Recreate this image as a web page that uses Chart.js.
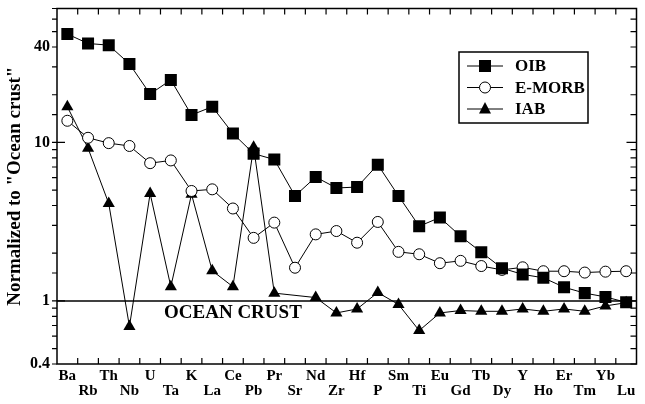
<!DOCTYPE html>
<html>
<head>
<meta charset="utf-8">
<script src="https://cdn.jsdelivr.net/npm/chart.js@4.4.0/dist/chart.umd.min.js"></script>
<style>
  html, body { margin: 0; padding: 0; background: #fff; }
  #wrap { width: 645px; height: 404px; }
</style>
</head>
<body>
<div id="wrap"><canvas id="spider" width="645" height="404"></canvas></div>
<script>
// elements along the x axis
const elements = ['Ba', 'Rb', 'Th', 'Nb', 'U', 'Ta', 'K', 'La', 'Ce', 'Pb', 'Pr', 'Sr', 'Nd', 'Zr',
                  'Hf', 'P', 'Sm', 'Ti', 'Eu', 'Gd', 'Tb', 'Dy', 'Y', 'Ho', 'Er', 'Tm', 'Yb', 'Lu'];

// normalized to ocean crust
const oib = [48.3, 42.1, 41.1, 31.3, 20.2, 24.8, 14.9, 16.8, 11.4, 8.5, 7.8, 4.6, 6.05, 5.16,
             5.23, 7.24, 4.6, 2.96, 3.36, 2.56, 2.03, 1.61, 1.47, 1.40, 1.22, 1.12, 1.06, 0.98];
const emorb = [13.7, 10.7, 9.9, 9.5, 7.4, 7.7, 4.94, 5.06, 3.83, 2.50, 3.12, 1.62, 2.63, 2.76,
               2.33, 3.15, 2.04, 1.97, 1.73, 1.79, 1.66, 1.57, 1.63, 1.54, 1.54, 1.51, 1.53, 1.54];
const iab = [16.8, 9.2, 4.12, 0.69, 4.76, 1.23, 4.71, 1.55, 1.23, 9.34, 1.12, null, 1.05, 0.84,
             0.89, 1.13, 0.95, 0.65, 0.84, 0.87, 0.86, 0.86, 0.89, 0.86, 0.89, 0.86, 0.93, 0.975];

const yLabelled = [0.4, 1, 10, 40];
const crustLevel = 1;

const serif = '"Liberation Serif", "Times New Roman", serif';

// frame, inward ticks, ocean crust line, legend
const decorPlugin = {
    id: 'decor',
    beforeDatasetsDraw(chart) {
        const { ctx, chartArea: a, scales: { y } } = chart;
        const yp = y.getPixelForValue(crustLevel);
        ctx.save();
        ctx.strokeStyle = '#000';
        ctx.lineWidth = 1.5;
        ctx.beginPath();
        ctx.moveTo(a.left, yp);
        ctx.lineTo(a.right, yp);
        ctx.stroke();
        ctx.fillStyle = '#000';
        ctx.font = 'bold 19px ' + serif;
        ctx.textAlign = 'center';
        ctx.textBaseline = 'middle';
        ctx.fillText('OCEAN CRUST', chart.scales.x.getPixelForValue(8), yp + 12);
        ctx.restore();
    },
    afterDraw(chart) {
        const { ctx, chartArea: a, scales: { x, y } } = chart;
        ctx.save();
        ctx.strokeStyle = '#000';
        ctx.lineWidth = 1.5;
        ctx.strokeRect(a.left, a.top, a.right - a.left, a.bottom - a.top);

        // x ticks between categories, top and bottom, pointing in
        ctx.lineWidth = 1.2;
        const step = x.getPixelForValue(1) - x.getPixelForValue(0);
        ctx.beginPath();
        for (let i = 0; i < elements.length - 1; i++) {
            const px = x.getPixelForValue(i) + step / 2;
            ctx.moveTo(px, a.bottom);
            ctx.lineTo(px, a.bottom - 6);
            ctx.moveTo(px, a.top);
            ctx.lineTo(px, a.top + 6);
        }
        // y ticks, left outward, right inward
        y.ticks.forEach(t => {
            const py = y.getPixelForValue(t.value);
            if (py < a.top - 0.5 || py > a.bottom + 0.5) return;
            const decade = Math.abs(Math.log10(t.value) - Math.round(Math.log10(t.value))) < 1e-6;
            if (decade) {
                ctx.moveTo(a.left - 5, py);
                ctx.lineTo(a.left + 8, py);
                ctx.moveTo(a.right, py);
                ctx.lineTo(a.right - 10, py);
            } else {
                ctx.moveTo(a.left - 5, py);
                ctx.lineTo(a.left, py);
                ctx.moveTo(a.right, py);
                ctx.lineTo(a.right - 6, py);
            }
        });
        ctx.stroke();

        // legend box
        const bx = 459, by = 52, bw = 129, bh = 71;
        ctx.fillStyle = '#fff';
        ctx.fillRect(bx, by, bw, bh);
        ctx.lineWidth = 1.5;
        ctx.strokeRect(bx, by, bw, bh);
        const rows = [
            { label: 'OIB', style: 'rect' },
            { label: 'E-MORB', style: 'circle' },
            { label: 'IAB', style: 'triangle' }
        ];
        ctx.font = 'bold 17px ' + serif;
        ctx.textBaseline = 'middle';
        ctx.textAlign = 'left';
        rows.forEach((r, i) => {
            const cy = 66 + i * 21.5;
            ctx.lineWidth = 1;
            ctx.beginPath();
            ctx.moveTo(467, cy);
            ctx.lineTo(503, cy);
            ctx.stroke();
            ctx.beginPath();
            if (r.style === 'rect') {
                ctx.rect(485 - 6, cy - 6, 12, 12);
                ctx.fillStyle = '#000';
                ctx.fill();
            } else if (r.style === 'circle') {
                ctx.arc(485, cy, 5.5, 0, Math.PI * 2);
                ctx.fillStyle = '#fff';
                ctx.fill();
                ctx.stroke();
            } else {
                ctx.moveTo(485, cy - 7);
                ctx.lineTo(491, cy + 4.5);
                ctx.lineTo(479, cy + 4.5);
                ctx.closePath();
                ctx.fillStyle = '#000';
                ctx.fill();
            }
            ctx.fillStyle = '#000';
            ctx.fillText(r.label, 515, cy + 1);
        });
        ctx.restore();
    }
};

new Chart(document.getElementById('spider'), {
    type: 'line',
    data: {
        labels: elements,
        datasets: [{
            label: 'OIB',
            data: oib,
            borderColor: '#000',
            borderWidth: 1,
            pointStyle: 'rect',
            pointRadius: 8.5,
            pointBackgroundColor: '#000',
            pointBorderColor: '#000',
            pointBorderWidth: 0
        }, {
            label: 'E-MORB',
            data: emorb,
            borderColor: '#000',
            borderWidth: 1,
            pointStyle: 'circle',
            pointRadius: 5.5,
            pointBackgroundColor: '#fff',
            pointBorderColor: '#000',
            pointBorderWidth: 1
        }, {
            label: 'IAB',
            data: iab,
            spanGaps: true,
            borderColor: '#000',
            borderWidth: 1,
            pointStyle: 'triangle',
            pointRadius: 7,
            pointBackgroundColor: '#000',
            pointBorderColor: '#000',
            pointBorderWidth: 0
        }]
    },
    options: {
        responsive: false,
        animation: false,
        layout: { padding: { top: 8, right: 1, left: 0, bottom: 0 } },
        plugins: {
            legend: { display: false },
            tooltip: { enabled: false }
        },
        scales: {
            x: {
                type: 'category',
                offset: true,
                grid: { display: false, drawTicks: false },
                border: { display: false },
                afterFit: s => { s.height = 40; s.paddingLeft = 0; s.paddingRight = 0; },
                ticks: {
                    autoSkip: false,
                    maxRotation: 0,
                    minRotation: 0,
                    padding: 5,
                    color: '#000',
                    font: { family: serif, size: 15, weight: 'bold', lineHeight: 1.0 },
                    callback: (v, i) => (i % 2 ? ['', elements[i]] : elements[i])
                }
            },
            y: {
                type: 'logarithmic',
                min: 0.4,
                max: 70,
                grid: { display: false, drawTicks: false },
                border: { display: false },
                afterFit: s => { s.width = 57; s.paddingTop = 0; s.paddingBottom = 0; },
                title: {
                    display: true,
                    text: 'Normalized to "Ocean crust"',
                    color: '#000',
                    font: { family: serif, size: 19, weight: 'bold' },
                    padding: { top: 4, bottom: 4 }
                },
                ticks: {
                    autoSkip: false,
                    padding: 7,
                    color: '#000',
                    font: { family: serif, size: 16, weight: 'bold' },
                    callback: v => (yLabelled.some(t => Math.abs(t - v) < 1e-9) ? String(v) : '')
                }
            }
        }
    },
    plugins: [decorPlugin]
});
</script>
</body>
</html>
